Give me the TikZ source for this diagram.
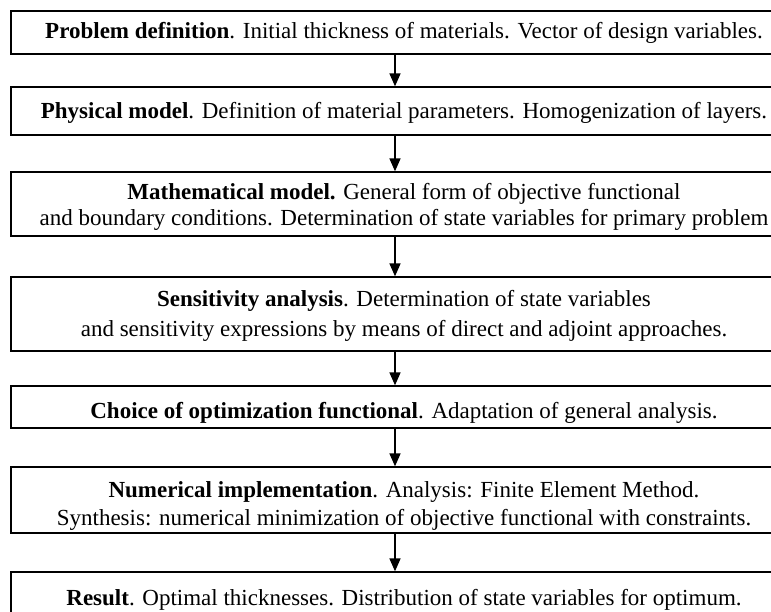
\documentclass[tikz,border=0pt]{standalone}
\usepackage{fontspec}
\setmainfont{Liberation Serif}
\usetikzlibrary{arrows.meta}
\begin{document}
\begin{tikzpicture}[x=1pt,y=-1pt,
  box/.style={draw, line width=1.3pt, minimum width=784pt, inner sep=0pt},
  txt/.style={anchor=base, inner sep=0pt, font=\fontsize{23}{28}\selectfont},
  arr/.style={line width=1.6pt, -{Triangle[length=13pt,width=11pt]}}]
\useasboundingbox (0,0) rectangle (771,612);
\coordinate (ax) at (395,0);
% boxes
\node[box, minimum height=43pt] (b1) at (403,32.5) {};
\node[box, minimum height=48pt] (b2) at (403,111) {};
\node[box, minimum height=64pt] (b3) at (403,204) {};
\node[box, minimum height=74pt] (b4) at (403,314) {};
\node[box, minimum height=42pt] (b5) at (403,407) {};
\node[box, minimum height=66pt] (b6) at (403,500) {};
\node[box, minimum height=44pt] (b7) at (403,594) {};
% texts
\node[txt] (t1) at (404,39) {\textbf{Problem definition}. Initial thickness of materials. Vector of design variables.};
\node[txt] (t2) at (404,119) {\textbf{Physical model}. Definition of material parameters. Homogenization of layers.};
\node[txt] (t3a) at (404,200) {\textbf{Mathematical model.} General form of objective functional};
\node[txt] (t3b) at (404,226) {and boundary conditions. Determination of state variables for primary problem};
\node[txt] (t4a) at (404,306) {\textbf{Sensitivity analysis}. Determination of state variables};
\node[txt] (t4b) at (404,337) {and sensitivity expressions by means of direct and adjoint approaches.};
\node[txt] (t5) at (404,418) {\textbf{Choice of optimization functional}. Adaptation of general analysis.};
\node[txt] (t6a) at (404,497) {\textbf{Numerical implementation}. Analysis: Finite Element Method.};
\node[txt] (t6b) at (404,525) {Synthesis: numerical minimization of objective functional with constraints.};
\node[txt] (t7) at (404,605) {\textbf{Result}. Optimal thicknesses. Distribution of state variables for optimum.};
% arrows
\draw[arr] (b1.south -| ax) -- (b2.north -| ax);
\draw[arr] (b2.south -| ax) -- (b3.north -| ax);
\draw[arr] (b3.south -| ax) -- (b4.north -| ax);
\draw[arr] (b4.south -| ax) -- (b5.north -| ax);
\draw[arr] (b5.south -| ax) -- (b6.north -| ax);
\draw[arr] (b6.south -| ax) -- (b7.north -| ax);
\end{tikzpicture}
\end{document}
